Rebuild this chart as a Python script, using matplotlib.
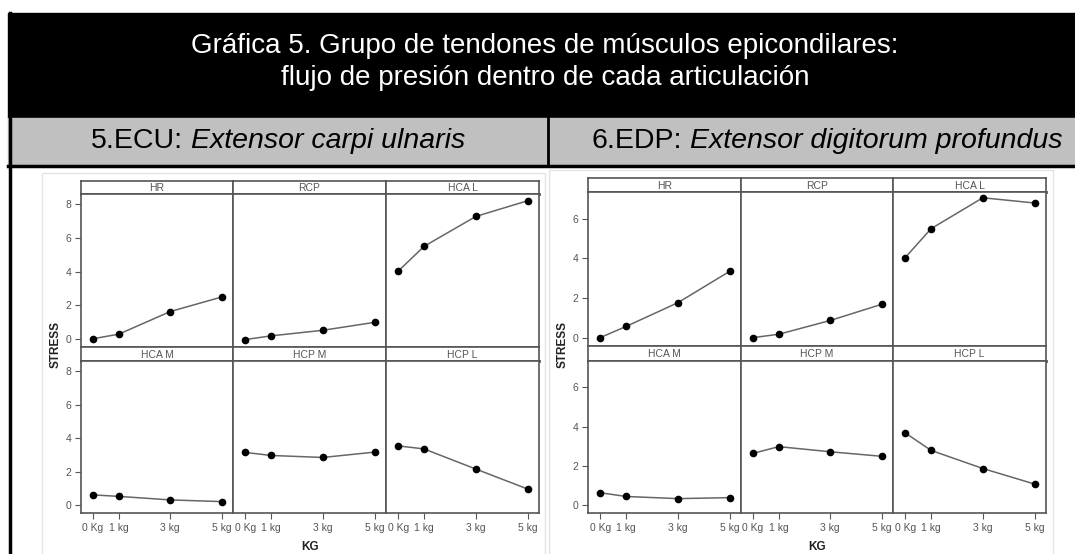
import numpy as np
import matplotlib
matplotlib.use("Agg")
import matplotlib.pyplot as plt
import matplotlib.patches as patches

plt.rcParams['font.family'] = ['Liberation Sans', 'DejaVu Sans']

W, H = 1075, 554

# data
kg = [0, 1, 3, 5]
kg_labels = ["0 Kg", "1 kg", "3 kg", "5 kg"]
panels = ["HR", "RCP", "HCA L", "HCA M", "HCP M", "HCP L"]

ecu_hr = [0.03, 0.30, 1.64, 2.50]
ecu_rcp = [-0.02, 0.20, 0.53, 1.00]
ecu_hcal = [4.03, 5.50, 7.27, 8.20]
ecu_hcam = [0.62, 0.53, 0.32, 0.22]
ecu_hcpm = [3.15, 2.97, 2.85, 3.17]
ecu_hcpl = [3.54, 3.36, 2.16, 0.97]

edp_hr = [0.03, 0.59, 1.78, 3.35]
edp_rcp = [0.03, 0.20, 0.89, 1.70]
edp_hcal = [4.04, 5.49, 7.04, 6.78]
edp_hcam = [0.64, 0.45, 0.34, 0.39]
edp_hcpm = [2.64, 2.98, 2.72, 2.49]
edp_hcpl = [3.68, 2.79, 1.87, 1.08]

ecu = [ecu_hr, ecu_rcp, ecu_hcal, ecu_hcam, ecu_hcpm, ecu_hcpl]
edp = [edp_hr, edp_rcp, edp_hcal, edp_hcam, edp_hcpm, edp_hcpl]

title1 = "Gráfica 5. Grupo de tendones de músculos epicondilares:"
title2 = "flujo de presión dentro de cada articulación"

fig = plt.figure(figsize=(W / 100, H / 100), dpi=100)


def px(x0, y0, x1, y1):
    # pixel box (top-left origin) -> figure fraction
    return [x0 / W, 1 - y1 / H, (x1 - x0) / W, (y1 - y0) / H]


bg = fig.add_axes([0, 0, 1, 1])
bg.set_xlim(0, W)
bg.set_ylim(H, 0)
bg.axis('off')

# table cells
bg.add_patch(patches.Rectangle((8, 13), W - 8, 105, color='black'))
bg.add_patch(patches.Rectangle((8, 118), W - 8, 47, color='#c0c0c0'))
bg.plot([9.5, 9.5], [13, H], color='black', lw=2.5)
bg.plot([8, W], [165.5, 165.5], color='black', lw=2.5)
bg.plot([548, 548], [118, 165], color='black', lw=2)

bg.text(545, 46, title1, color='white', fontsize=20, ha='center', va='center')
bg.text(545, 78, title2, color='white', fontsize=20, ha='center', va='center')

renderer = fig.canvas.get_renderer()


def cell_text(xc, yc, a, b):
    t1 = bg.text(0, yc, a, fontsize=20.5, ha='left', va='center')
    t2 = bg.text(0, yc, b, fontsize=20.5, style='italic', ha='left', va='center')
    w1 = t1.get_window_extent(renderer).width
    w2 = t2.get_window_extent(renderer).width
    gap = 8
    x0 = xc - (w1 + gap + w2) / 2
    t1.set_x(x0)
    t2.set_x(x0 + w1 + gap)


cell_text(278, 141, "5.ECU:", "Extensor carpi ulnaris")
cell_text(827, 141, "6.EDP:", "Extensor digitorum profundus")

# light border of each pasted chart
bg.add_patch(patches.Rectangle((42, 173), 503, 400, fill=False, ec='#e4e4e4', lw=1))
bg.add_patch(patches.Rectangle((549, 170), 504, 400, fill=False, ec='#e4e4e4', lw=1))

frame = '#555555'


def facet(series, cols, rows, ylim, yticks):
    # cols: x edges, rows: list of (strip_top, strip_bottom, plot_bottom)
    for i, vals in enumerate(series):
        r, c = divmod(i, 3)
        st, sb, pb = rows[r]
        x0, x1 = cols[c], cols[c + 1]
        sa = fig.add_axes(px(x0, st, x1, sb))
        sa.set_xticks([])
        sa.set_yticks([])
        for s in sa.spines.values():
            s.set_color(frame)
            s.set_linewidth(1.2)
        sa.spines['bottom'].set_linewidth(2)
        sa.text(0.5, 0.45, panels[i], ha='center', va='center', fontsize=7.5,
                color='#555555', transform=sa.transAxes)

        ax = fig.add_axes(px(x0, sb, x1, pb))
        ax.plot(kg, vals, color='#666666', lw=1.1, marker='o', ms=4.5,
                mfc='black', mec='black', zorder=3)
        ax.set_xlim(-0.47, 5.44)
        ax.set_ylim(*ylim)
        for s in ax.spines.values():
            s.set_color(frame)
            s.set_linewidth(1.2)
        ax.tick_params(colors='#555555', labelsize=7.5, length=4, width=0.8, pad=3)
        ax.set_xticks(kg)
        ax.set_yticks(yticks)
        if r == 1:
            ax.set_xticklabels(kg_labels)
        else:
            ax.tick_params(axis='x', length=0, labelbottom=False)
        if c == 0:
            ax.set_yticklabels([str(v) for v in yticks])
        else:
            ax.tick_params(axis='y', length=0, labelleft=False)


facet(ecu, [81, 233, 386, 539], [(181, 194, 347), (347, 361, 513)],
      (-0.46, 8.6), [0, 2, 4, 6, 8])
facet(edp, [588, 741, 893, 1046], [(178, 192, 346), (346, 361, 513)],
      (-0.39, 7.33), [0, 2, 4, 6])

bg.set_zorder(-1)
bg.text(310, 547, "KG", fontsize=8.5, fontweight='bold', color='#222222', ha='center', va='center')
bg.text(817, 547, "KG", fontsize=8.5, fontweight='bold', color='#222222', ha='center', va='center')
bg.text(56, 345, "STRESS", fontsize=8.5, fontweight='bold', color='#222222', rotation=90,
        ha='center', va='center')
bg.text(563, 345, "STRESS", fontsize=8.5, fontweight='bold', color='#222222', rotation=90,
        ha='center', va='center')

fig.savefig("out.png", dpi=100)
